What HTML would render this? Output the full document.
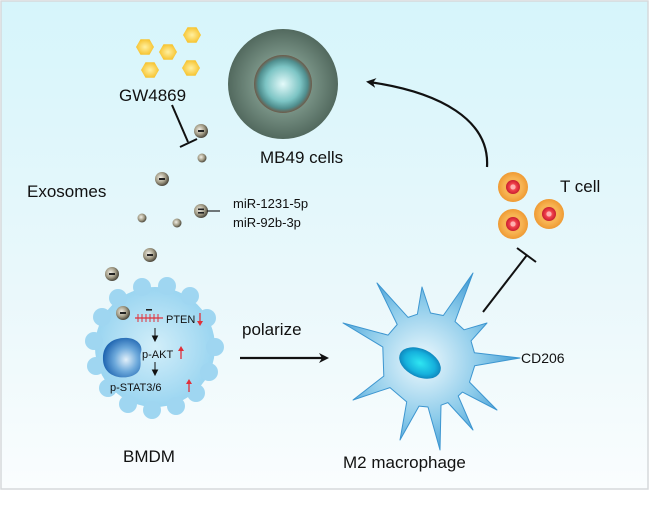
<!DOCTYPE html>
<html><head><meta charset="utf-8"><style>
html,body{margin:0;padding:0;background:#fff;width:650px;height:517px;overflow:hidden}
svg{display:block;font-family:"Liberation Sans",Arial,sans-serif}
</style></head><body>
<svg width="650" height="517" viewBox="0 0 650 517" xmlns="http://www.w3.org/2000/svg">
<defs>
<linearGradient id="bg" x1="0" y1="0" x2="0" y2="1">
<stop offset="0" stop-color="#d6f5fb"/><stop offset="0.6" stop-color="#eaf8fb"/><stop offset="1" stop-color="#fafdfe"/></linearGradient>
<radialGradient id="m2" cx="0.45" cy="0.5" r="0.6"><stop offset="0" stop-color="#eef9fd"/><stop offset="0.55" stop-color="#8ccbea"/><stop offset="1" stop-color="#2f8fcf"/></radialGradient>
<radialGradient id="nuc2" cx="0.5" cy="0.5" r="0.6"><stop offset="0" stop-color="#2fe6f2"/><stop offset="0.6" stop-color="#15b0dc"/><stop offset="1" stop-color="#0a6aa8"/></radialGradient>
<radialGradient id="bm" cx="0.5" cy="0.5" r="0.6"><stop offset="0" stop-color="#d2eef9"/><stop offset="1" stop-color="#8fd0ef"/></radialGradient>
<radialGradient id="nuc1" cx="0.6" cy="0.55" r="0.6"><stop offset="0" stop-color="#e2f0fa"/><stop offset="0.5" stop-color="#6da9db"/><stop offset="1" stop-color="#1e64b0"/></radialGradient>
<radialGradient id="mbo" cx="0.5" cy="0.5" r="0.5"><stop offset="0.5" stop-color="#7a9487"/><stop offset="1" stop-color="#52695e"/></radialGradient>
<radialGradient id="mbi" cx="0.5" cy="0.5" r="0.5"><stop offset="0" stop-color="#e4fafa"/><stop offset="0.6" stop-color="#7cc4c4"/><stop offset="0.85" stop-color="#4f8e8e"/><stop offset="1" stop-color="#6e5a48"/></radialGradient>
<radialGradient id="exo" cx="0.4" cy="0.4" r="0.6"><stop offset="0" stop-color="#f2efe6"/><stop offset="0.6" stop-color="#a29c86"/><stop offset="1" stop-color="#4e4a3e"/></radialGradient>
<radialGradient id="tc" cx="0.5" cy="0.5" r="0.5"><stop offset="0.6" stop-color="#f7b453"/><stop offset="1" stop-color="#ef9a33"/></radialGradient>
<radialGradient id="tn" cx="0.5" cy="0.5" r="0.5"><stop offset="0" stop-color="#ffd0d0"/><stop offset="0.5" stop-color="#f0404a"/><stop offset="1" stop-color="#c81e30"/></radialGradient>
<radialGradient id="hex" cx="0.5" cy="0.5" r="0.5"><stop offset="0" stop-color="#fff0a0"/><stop offset="1" stop-color="#f7c431"/></radialGradient>
<marker id="ah" markerWidth="10" markerHeight="10" refX="7" refY="5" orient="auto" markerUnits="userSpaceOnUse"><path d="M0,0 L10,5 L0,10 L3,5 Z" fill="#111"/></marker>
<g id="hx"><polygon points="9,0 4.5,7.8 -4.5,7.8 -9,0 -4.5,-7.8 4.5,-7.8" fill="url(#hex)"/></g>
<g id="eb"><circle r="7" fill="url(#exo)"/><rect x="-3" y="-1" width="6" height="2" fill="#222"/></g>
<g id="es"><circle r="4.5" fill="url(#exo)"/></g>
<g id="tcell"><circle r="15" fill="url(#tc)"/><circle r="7" fill="url(#tn)"/><circle r="2.5" fill="#ffb0b0"/></g>
</defs>
<rect x="1" y="1" width="647" height="488" fill="url(#bg)" stroke="#d6d9db" stroke-width="1.5"/>

<use href="#hx" x="145" y="47"/><use href="#hx" x="168" y="52"/><use href="#hx" x="192" y="35"/><use href="#hx" x="150" y="70"/><use href="#hx" x="191" y="68"/>
<text x="119" y="101" font-size="17" fill="#111">GW4869</text>
<line x1="172" y1="105" x2="188" y2="142" stroke="#111" stroke-width="2"/>
<line x1="180" y1="147" x2="197" y2="139" stroke="#111" stroke-width="2"/>

<circle cx="283" cy="84" r="55" fill="url(#mbo)"/>
<circle cx="283" cy="84" r="29" fill="url(#mbi)"/>
<text x="260" y="163" font-size="17" fill="#111">MB49 cells</text>

<use href="#eb" x="201" y="131"/><use href="#es" x="202" y="158"/><use href="#eb" x="162" y="179"/>
<use href="#es" x="142" y="218"/><use href="#es" x="177" y="223"/>
<g transform="translate(201,211)"><circle r="7" fill="url(#exo)"/><rect x="-3" y="-2.5" width="6" height="1.6" fill="#222"/><rect x="-3" y="1" width="6" height="1.6" fill="#222"/></g>
<use href="#eb" x="150" y="255"/><use href="#eb" x="112" y="274"/>
<line x1="207" y1="211" x2="220" y2="211" stroke="#222" stroke-width="1.2"/>
<text x="27" y="197" font-size="17" fill="#111">Exosomes</text>
<text x="233" y="208" font-size="13" fill="#111">miR-1231-5p</text>
<text x="233" y="227" font-size="13" fill="#111">miR-92b-3p</text>

<path d="M487,167 C490,120 440,92 369,82" fill="none" stroke="#111" stroke-width="2.2" marker-end="url(#ah)"/>

<use href="#tcell" x="513" y="187"/><use href="#tcell" x="513" y="224"/><use href="#tcell" x="549" y="214"/>
<text x="560" y="192" font-size="17" fill="#111">T cell</text>
<line x1="483" y1="312" x2="527" y2="255" stroke="#111" stroke-width="2"/>
<line x1="517" y1="248" x2="536" y2="262" stroke="#111" stroke-width="2"/>

<g fill="#9fd6f1">
<circle cx="155" cy="347" r="60" fill="url(#bm)"/>
<circle cx="215" cy="347" r="9"/><circle cx="209" cy="372" r="9"/><circle cx="196" cy="393" r="9"/><circle cx="176" cy="406" r="9"/><circle cx="152" cy="410" r="9"/><circle cx="128" cy="404" r="9"/><circle cx="108" cy="388" r="9"/><circle cx="96" cy="366" r="9"/><circle cx="94" cy="341" r="9"/><circle cx="102" cy="317" r="9"/><circle cx="118" cy="298" r="9"/><circle cx="142" cy="287" r="9"/><circle cx="167" cy="286" r="9"/><circle cx="190" cy="296" r="9"/><circle cx="207" cy="318" r="9"/>
</g>
<path d="M103,360 C102,344 114,337 128,338 C138,339 143,346 141,352 C139,358 143,366 138,372 C130,381 104,380 103,360 Z" fill="url(#nuc1)"/>
<use href="#eb" x="123" y="313"/>
<rect x="146" y="309" width="6" height="1.6" fill="#222"/>
<line x1="135" y1="318" x2="163" y2="318" stroke="#e0303a" stroke-width="1.3"/>
<g stroke="#e0303a" stroke-width="1"><line x1="138" y1="314" x2="138" y2="322"/><line x1="142" y1="314" x2="142" y2="322"/><line x1="146" y1="314" x2="146" y2="322"/><line x1="150" y1="314" x2="150" y2="322"/><line x1="154" y1="314" x2="154" y2="322"/><line x1="158" y1="314" x2="158" y2="322"/></g>
<text x="166" y="323" font-size="11" fill="#111">PTEN</text>
<text x="142" y="358" font-size="11" fill="#111">p-AKT</text>
<text x="110" y="391" font-size="11" fill="#111">p-STAT3/6</text>
<g stroke="#e0303a" stroke-width="1.3" fill="#e0303a">
<line x1="200" y1="313" x2="200" y2="323"/><path d="M197,321 L200,326 L203,321 Z" stroke="none"/>
<line x1="181" y1="359" x2="181" y2="349"/><path d="M178,351 L181,346 L184,351 Z" stroke="none"/>
<line x1="189" y1="392" x2="189" y2="382"/><path d="M186,384 L189,379 L192,384 Z" stroke="none"/>
</g>
<g stroke="#111" stroke-width="1" fill="#111">
<line x1="155" y1="328" x2="155" y2="338"/><path d="M152.5,336 L155,341 L157.5,336 Z"/>
<line x1="155" y1="362" x2="155" y2="372"/><path d="M152.5,370 L155,375 L157.5,370 Z"/>
</g>
<text x="123" y="462" font-size="17" fill="#111">BMDM</text>

<text x="242" y="335" font-size="17" fill="#111">polarize</text>
<line x1="240" y1="358" x2="326" y2="358" stroke="#111" stroke-width="2.2" marker-end="url(#ah)"/>

<path d="M377,283 L408.1,317.4 L417.4,314.2 L422,287 L430.5,313 L443.3,315.5 L473,273 L455,321.5 L464,329.8 L487,323 L471,340.9 L474.4,352.7 L520,358 L474.7,365.7 L469.5,382.1 L497,410 L462.4,392.1 L458.2,396 L473,430 L447.9,402.6 L441,405.2 L440,450 L428,407 L419,406.1 L400,440 L406.7,401.9 L390,387.6 L353,400 L383.8,376.1 L382.8,347 L343,323 L388.1,335.1 L397.2,324.5 Z" fill="url(#m2)" stroke="#3d96d0" stroke-width="1" stroke-linejoin="round"/>
<ellipse cx="420" cy="363" rx="22" ry="14" transform="rotate(25 420 363)" fill="url(#nuc2)"/>
<text x="521" y="363" font-size="14" fill="#111">CD206</text>
<text x="343" y="468" font-size="17" fill="#111">M2 macrophage</text>
</svg>
</body></html>
